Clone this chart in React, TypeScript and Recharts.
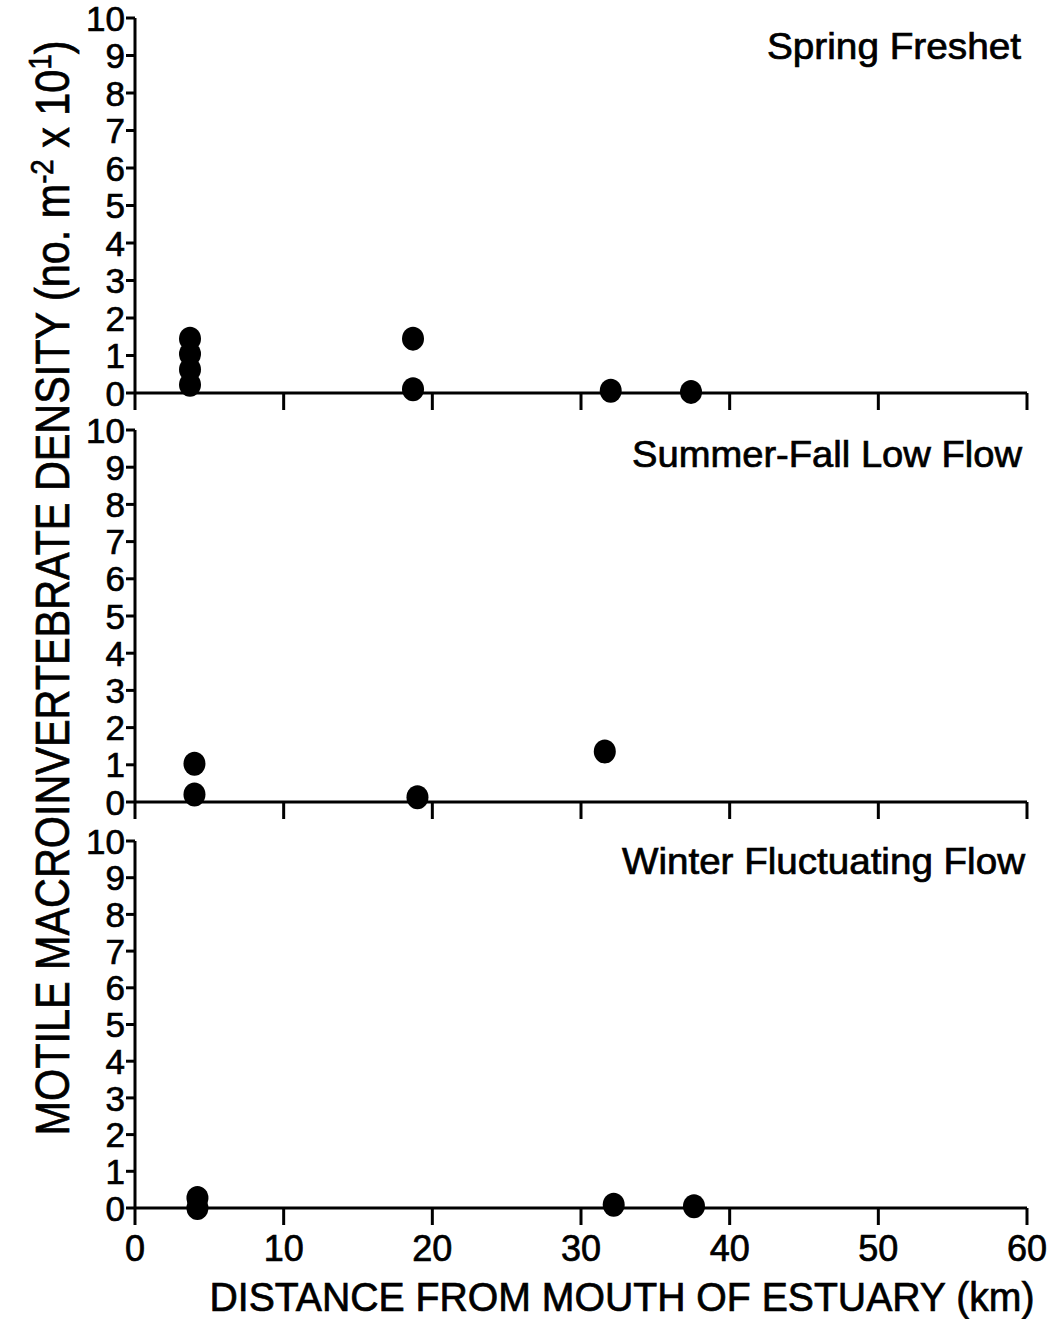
import React from "react";
import { ScatterChart, Scatter, XAxis, YAxis } from "recharts";

// Station distances (km from the estuary mouth) and densities (no. m^-2 x 10^1)
const springDistance = [3.7, 3.7, 3.7, 3.7, 18.7, 18.7, 32.0, 37.4];
const springDensity = [1.45, 1.04, 0.63, 0.22, 1.45, 0.1, 0.06, 0.03];

const summerDistance = [4.0, 4.0, 19.0, 31.6];
const summerDensity = [1.03, 0.2, 0.13, 1.36];

const winterDistance = [4.2, 4.2, 32.2, 37.6];
const winterDensity = [0.27, 0.0, 0.09, 0.05];

const xTicks = [0, 10, 20, 30, 40, 50, 60];
const yTicks = [0, 1, 2, 3, 4, 5, 6, 7, 8, 9, 10];

const panelTitles = ["Spring Freshet", "Summer-Fall Low Flow", "Winter Fluctuating Flow"];

const FONT = "'Liberation Sans', Arial, Helvetica, sans-serif";
const WIDTH = 1055;
const PLOT_LEFT = 135;
const PLOT_RIGHT = 1027;

// slightly heavier glyphs, like the printed figure
const inkText = { stroke: "#000", strokeWidth: 0.7 };

const toPoints = (xs: number[], ys: number[]) => xs.map((x, i) => ({ x, y: ys[i] }));

const Dot = (props: any) => {
  const { cx, cy } = props;
  if (cx == null || cy == null) return <g />;
  return <ellipse cx={cx} cy={cy} rx={11} ry={12} fill="#000" />;
};

const YTick = (props: any) => {
  const { x, y, payload } = props;
  return (
    <text x={x} y={y} dy="0.36em" textAnchor="end" fontSize={35} fontFamily={FONT} fill="#000" {...inkText}>
      {payload.value}
    </text>
  );
};

const XTick = (props: any) => {
  const { x, y, payload } = props;
  return (
    <text x={x} y={y} dy="0.78em" textAnchor="middle" fontSize={36} fontFamily={FONT} fill="#000" {...inkText}>
      {payload.value}
    </text>
  );
};

const NoTick = () => <g />;

interface PanelProps {
  points: { x: number; y: number }[];
  top: number;
  plotTop: number;
  plotBottom: number;
  showXLabels: boolean;
}

function Panel({ points, top, plotTop, plotBottom, showXLabels }: PanelProps) {
  const axisHeight = showXLabels ? 70 : 24;
  const height = plotBottom - top + axisHeight;
  const lineStyle = { stroke: "#000", strokeWidth: 3 };
  return (
    <div style={{ position: "absolute", left: 0, top }}>
      <ScatterChart
        width={WIDTH}
        height={height}
        margin={{ top: plotTop - top, right: WIDTH - PLOT_RIGHT, bottom: 0, left: 0 }}
      >
        <XAxis
          type="number"
          dataKey="x"
          domain={[0, 60]}
          ticks={xTicks}
          interval={0}
          height={axisHeight}
          axisLine={lineStyle}
          tickLine={lineStyle}
          tickSize={17}
          tickMargin={8}
          tick={showXLabels ? <XTick /> : <NoTick />}
        />
        <YAxis
          type="number"
          dataKey="y"
          domain={[0, 10]}
          ticks={yTicks}
          interval={0}
          width={PLOT_LEFT}
          axisLine={lineStyle}
          tickLine={lineStyle}
          tickSize={9}
          tickMargin={1}
          tick={<YTick />}
        />
        <Scatter data={points} fill="#000" shape={<Dot />} isAnimationActive={false} />
      </ScatterChart>
    </div>
  );
}

export default function App() {
  return (
    <div style={{ position: "relative", width: WIDTH, height: 1319, background: "#fff", overflow: "hidden" }}>
      <style>{`body{margin:0}`}</style>
      <Panel points={toPoints(springDistance, springDensity)} top={0} plotTop={18} plotBottom={393} showXLabels={false} />
      <Panel points={toPoints(summerDistance, summerDensity)} top={405} plotTop={430} plotBottom={802} showXLabels={false} />
      <Panel points={toPoints(winterDistance, winterDensity)} top={815} plotTop={841} plotBottom={1208} showXLabels />
      <svg
        width={WIDTH}
        height={1319}
        style={{ position: "absolute", left: 0, top: 0, pointerEvents: "none" }}
        fontFamily={FONT}
        fill="#000"
        {...inkText}
      >
        <text x={1021} y={59} textAnchor="end" fontSize={36} textLength={254} lengthAdjust="spacingAndGlyphs">
          {panelTitles[0]}
        </text>
        <text x={1022} y={467} textAnchor="end" fontSize={36} textLength={390} lengthAdjust="spacingAndGlyphs">
          {panelTitles[1]}
        </text>
        <text x={1025} y={874} textAnchor="end" fontSize={36} textLength={403} lengthAdjust="spacingAndGlyphs">
          {panelTitles[2]}
        </text>
        <text x={622} y={1311} textAnchor="middle" fontSize={40} textLength={825} lengthAdjust="spacingAndGlyphs">
          DISTANCE FROM MOUTH OF ESTUARY (km)
        </text>
        <text
          x={69}
          y={588}
          transform="rotate(-90 69 588)"
          textAnchor="middle"
          fontSize={48}
          textLength={1095}
          lengthAdjust="spacingAndGlyphs"
        >
          MOTILE MACROINVERTEBRATE DENSITY (no. m
          <tspan dy={-16} fontSize={32}>-2</tspan>
          <tspan dy={16}> x 10</tspan>
          <tspan dy={-18} fontSize={32}>1</tspan>
          <tspan dy={18}>)</tspan>
        </text>
      </svg>
    </div>
  );
}
